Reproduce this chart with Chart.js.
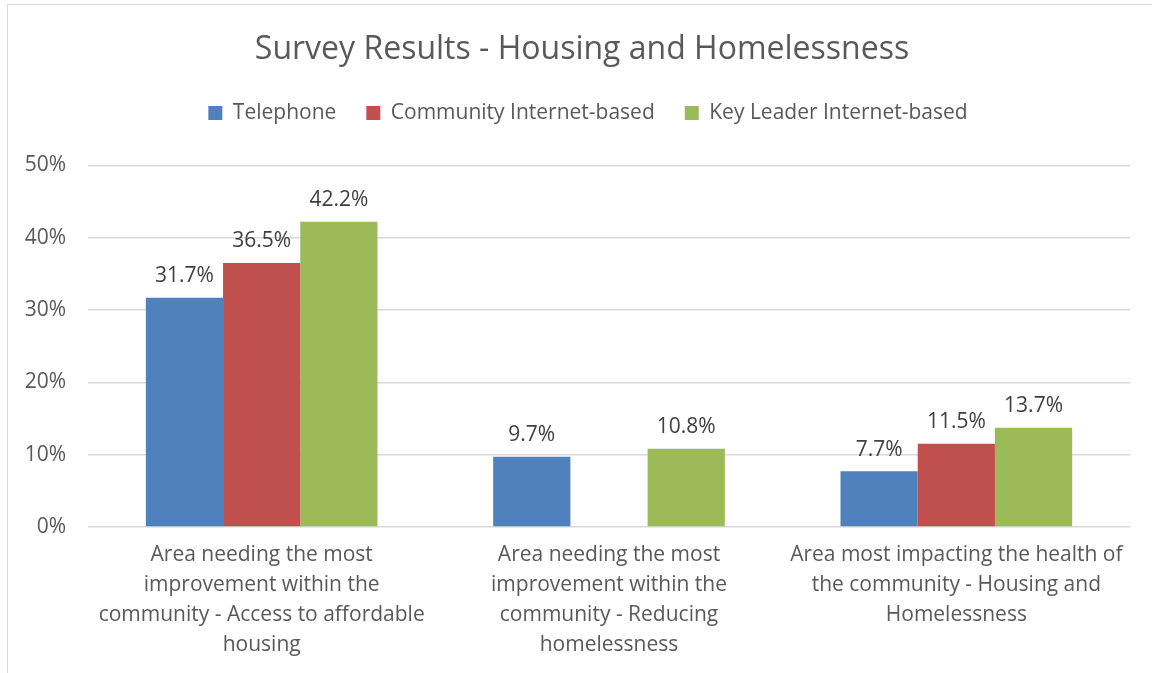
<!DOCTYPE html>
<html>
<head>
<meta charset="utf-8">
<script src="https://cdn.jsdelivr.net/npm/chart.js@4/dist/chart.umd.min.js"></script>
<style>
  html, body { margin: 0; padding: 0; background: #fff; overflow: hidden; }
  #frame { position: absolute; left: 7px; top: 4px; width: 1160px; height: 700px;
           border: 1px solid #d9d9d9; box-sizing: border-box; background: #fff; }
  #wrap { position: absolute; left: 0; top: 0; width: 1150px; height: 669px; }
</style>
</head>
<body>
<div id="frame"><div id="wrap"><canvas id="chart"></canvas></div></div>
<script>
// Survey categories (wrapped into lines for the axis)
const categories = [
  ["Area needing the most", "improvement within the", "community - Access to affordable", "housing"],
  ["Area needing the most", "improvement within the", "community - Reducing", "homelessness"],
  ["Area most impacting the health of", "the community - Housing and", "Homelessness"]
];
const seriesNames = ["Telephone", "Community Internet-based", "Key Leader Internet-based"];
const telephone = [31.7, 9.7, 7.7];
const communityInternet = [36.5, null, 11.5];
const keyLeaderInternet = [42.2, 10.8, 13.7];
const yTicks = [0, 10, 20, 30, 40, 50];

const colors = ["#4F81BD", "#C0504D", "#9BBB59"];
const textColor = "#595959";
const fontFamily = "'Open Sans', 'Noto Sans', sans-serif";

// Writes each bar's value above it
const valueLabels = {
  id: "valueLabels",
  afterDatasetsDraw(chart) {
    const ctx = chart.ctx;
    ctx.save();
    ctx.font = "21px " + fontFamily;
    ctx.fillStyle = "#404040";
    ctx.textAlign = "center";
    ctx.textBaseline = "bottom";
    chart.data.datasets.forEach((ds, i) => {
      const meta = chart.getDatasetMeta(i);
      meta.data.forEach((el, j) => {
        const v = ds.data[j];
        if (v === null || v === undefined) return;
        ctx.fillText(v.toFixed(1) + "%", el.x, el.y - 11);
      });
    });
    ctx.restore();
  }
};

// Extra room between the legend and the plot, and a small rightward nudge
// of the title and legend blocks
const headerLayout = {
  id: "headerLayout",
  beforeInit(chart) {
    const origFit = chart.legend.fit;
    chart.legend.fit = function () {
      origFit.call(this);
      this.height += 32;
    };
  },
  afterLayout(chart) {
    chart.legend.left += 12;
    chart.legend.right += 12;
    if (chart.titleBlock) {
      chart.titleBlock.left += 6;
      chart.titleBlock.right += 6;
    }
  }
};

new Chart(document.getElementById("chart"), {
  type: "bar",
  data: {
    labels: categories,
    datasets: [
      { label: seriesNames[0], data: telephone, backgroundColor: colors[0] },
      { label: seriesNames[1], data: communityInternet, backgroundColor: colors[1] },
      { label: seriesNames[2], data: keyLeaderInternet, backgroundColor: colors[2] }
    ]
  },
  options: {
    responsive: true,
    maintainAspectRatio: false,
    animation: false,
    layout: { padding: { left: 14, right: 28, top: 20, bottom: 9 } },
    datasets: { bar: { categoryPercentage: 0.667, barPercentage: 1.0 } },
    plugins: {
      title: {
        display: true,
        text: "Survey Results - Housing and Homelessness",
        color: textColor,
        font: { family: fontFamily, size: 32, weight: "normal" },
        padding: { top: 6, bottom: 3 }
      },
      legend: {
        display: true,
        position: "top",
        labels: {
          color: textColor,
          font: { family: fontFamily, size: 21 },
          boxWidth: 14,
          boxHeight: 14,
          padding: 30
        }
      },
      tooltip: { enabled: false }
    },
    scales: {
      x: {
        grid: { display: false },
        border: { display: false },
        afterFit(axis) { axis.paddingLeft = 0; axis.paddingRight = 0; },
        ticks: {
          color: textColor,
          font: { family: fontFamily, size: 21, lineHeight: 1.43 },
          maxRotation: 0,
          autoSkip: false,
          padding: 5
        }
      },
      y: {
        min: yTicks[0],
        max: yTicks[yTicks.length - 1],
        afterBuildTicks(axis) { axis.ticks = yTicks.map(v => ({ value: v })); },
        afterFit(axis) { axis.width = 66; },
        grid: { color: "#D9D9D9", lineWidth: 1.5, drawTicks: false },
        border: { display: false },
        ticks: {
          color: textColor,
          font: { family: fontFamily, size: 21 },
          padding: 22,
          callback: v => v + "%"
        }
      }
    }
  },
  plugins: [valueLabels, headerLayout]
});
</script>
</body>
</html>
